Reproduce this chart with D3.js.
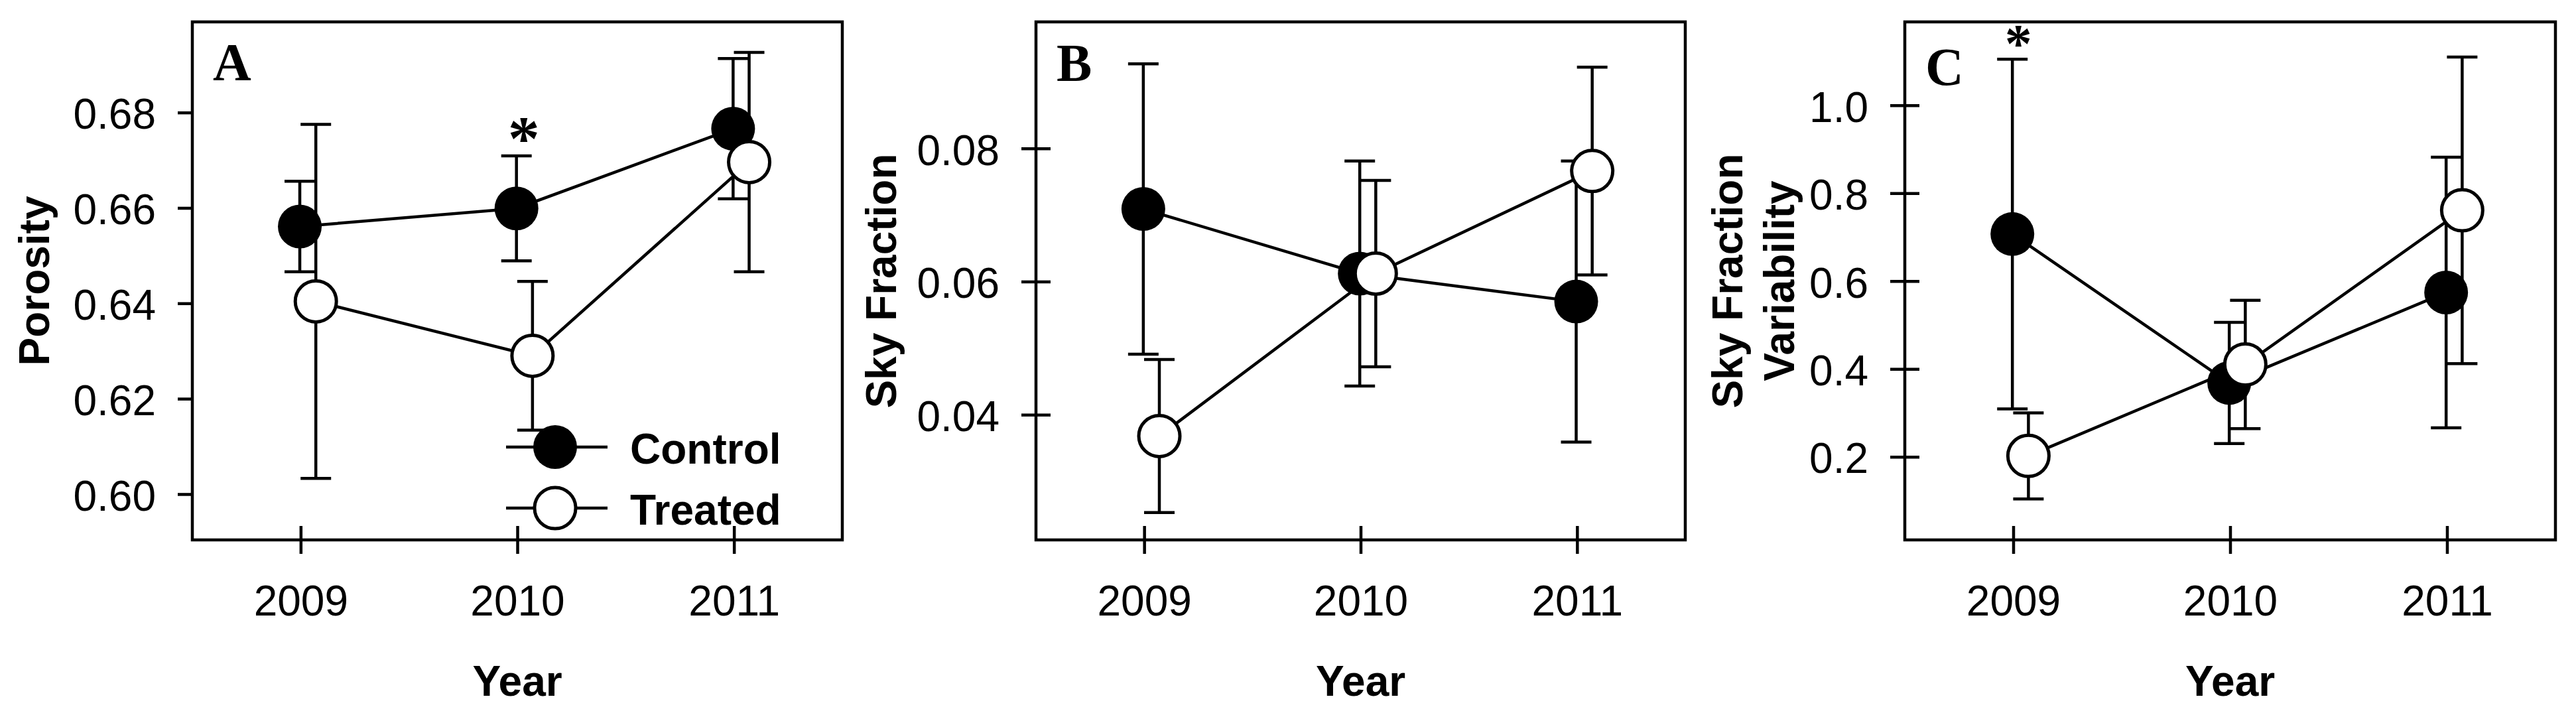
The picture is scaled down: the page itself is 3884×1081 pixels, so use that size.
<!DOCTYPE html>
<html>
<head>
<meta charset="utf-8">
<script src="https://cdn.jsdelivr.net/npm/d3@7"></script>
<style>
  html, body { margin: 0; padding: 0; background: #fff; }
  svg { display: block; }
</style>
</head>
<body>
<script>
// ---------------- data ----------------
const years = [2009, 2010, 2011];
const seriesNames = ["Control", "Treated"];

const porosityControl    = [0.6561, 0.6599, 0.6766];
const porosityControlErr = [0.0095, 0.0110, 0.0147];
const porosityTreated    = [0.6404, 0.6290, 0.6696];
const porosityTreatedErr = [0.0371, 0.0156, 0.0230];

const skyControl    = [0.0709, 0.0612, 0.0570];
const skyControlErr = [0.0218, 0.0169, 0.0211];
const skyTreated    = [0.0368, 0.0612, 0.0766];
const skyTreatedErr = [0.0115, 0.0140, 0.0156];

const varControl    = [0.707, 0.368, 0.574];
const varControlErr = [0.398, 0.138, 0.308];
const varTreated    = [0.202, 0.410, 0.761];
const varTreatedErr = [0.098, 0.146, 0.349];

const porosityTicks = [0.60, 0.62, 0.64, 0.66, 0.68];
const skyTicks      = [0.04, 0.06, 0.08];
const varTicks      = [0.2, 0.4, 0.6, 0.8, 1.0];

// ---------------- layout ----------------
const W = 3884, H = 1081;
const TOP = 33, BOTTOM = 814;
const SW = 4.5;
const SANS = "'Liberation Sans', Arial, Helvetica, sans-serif";
const SERIF = "'Liberation Serif', 'Times New Roman', serif";

const panels = [
  { letter: "A", x0: 290, x1: 1270, domain: [0.5904, 0.699], ticks: porosityTicks, fmt: ".2f",
    control: porosityControl, controlErr: porosityControlErr,
    treated: porosityTreated, treatedErr: porosityTreatedErr,
    title: ["Porosity"], titleX: [74], innerYTicks: false, letterBase: 121,
    star: { series: "control", i: 1, dx: 11, gap: 40, size: 96 }, legend: true },
  { letter: "B", x0: 1562, x1: 2541, domain: [0.0212, 0.0990], ticks: skyTicks, fmt: ".2f",
    control: skyControl, controlErr: skyControlErr,
    treated: skyTreated, treatedErr: skyTreatedErr,
    title: ["Sky Fraction"], titleX: [1351], innerYTicks: true, letterBase: 122,
    star: null, legend: false },
  { letter: "C", x0: 2872, x1: 3853, domain: [0.0107, 1.190], ticks: varTicks, fmt: ".1f",
    control: varControl, controlErr: varControlErr,
    treated: varTreated, treatedErr: varTreatedErr,
    title: ["Sky Fraction", "Variability"], titleX: [2627, 2705], innerYTicks: true, letterBase: 128,
    star: { series: "control", i: 0, dx: 9, gap: 36, size: 82 }, legend: false }
];

const offsets = { control: -0.004, treated: 0.07 };

const svg = d3.select("body").append("svg")
  .attr("width", W).attr("height", H)
  .attr("viewBox", `0 0 ${W} ${H}`);
svg.append("rect").attr("width", W).attr("height", H).attr("fill", "#fff");

panels.forEach(p => {
  const g = svg.append("g");
  const x = d3.scaleLinear().domain([2008.5, 2011.5]).range([p.x0, p.x1]);
  const y = d3.scaleLinear().domain(p.domain).range([BOTTOM, TOP]);

  // y axis
  const gy = g.append("g").attr("transform", `translate(${p.x0},0)`)
    .call(d3.axisLeft(y).tickValues(p.ticks).tickFormat(d3.format(p.fmt)).tickSize(22).tickPadding(33));
  gy.select(".domain").remove();
  gy.selectAll(".tick line").attr("stroke", "#000").attr("stroke-width", SW)
    .attr("x1", p.innerYTicks ? 22 : 0);
  gy.selectAll(".tick text").attr("fill", "#000").attr("font-family", SANS)
    .attr("font-size", 64).attr("dy", "0.38em");

  // x axis
  const gx = g.append("g").attr("transform", `translate(0,${BOTTOM})`)
    .call(d3.axisBottom(x).tickValues(years).tickFormat(d3.format("d")).tickSize(21));
  gx.select(".domain").remove();
  gx.selectAll(".tick line").attr("stroke", "#000").attr("stroke-width", SW).attr("y1", -21);
  gx.selectAll(".tick text").attr("fill", "#000").attr("font-family", SANS)
    .attr("font-size", 64).attr("y", 114).attr("dy", null);

  // frame
  g.append("rect").attr("x", p.x0).attr("y", TOP)
    .attr("width", p.x1 - p.x0).attr("height", BOTTOM - TOP)
    .attr("fill", "none").attr("stroke", "#000").attr("stroke-width", SW);

  // axis titles
  g.append("text").attr("x", (p.x0 + p.x1) / 2).attr("y", 1049)
    .attr("text-anchor", "middle").attr("font-family", SANS)
    .attr("font-weight", "bold").attr("font-size", 64).text("Year");
  p.title.forEach((t, k) => {
    g.append("text")
      .attr("transform", `translate(${p.titleX[k]},${(TOP + BOTTOM) / 2}) rotate(-90)`)
      .attr("text-anchor", "middle").attr("font-family", SANS)
      .attr("font-weight", "bold").attr("font-size", 64).text(t);
  });

  // panel letter
  g.append("text").attr("x", p.x0 + 31).attr("y", p.letterBase)
    .attr("font-family", SERIF).attr("font-weight", "bold").attr("font-size", 80)
    .text(p.letter);

  // series
  const series = [
    { key: "control", vals: p.control, errs: p.controlErr },
    { key: "treated", vals: p.treated, errs: p.treatedErr }
  ];
  series.forEach(s => {
    const pts = years.map((yr, i) => ({ x: x(yr + offsets[s.key]), v: s.vals[i], e: s.errs[i] }));
    const sg = g.append("g");
    // error bars
    const eb = sg.selectAll(".eb").data(pts).enter().append("g");
    eb.append("line").attr("x1", d => d.x).attr("x2", d => d.x)
      .attr("y1", d => y(d.v + d.e)).attr("y2", d => y(d.v - d.e))
      .attr("stroke", "#000").attr("stroke-width", SW);
    eb.append("line").attr("x1", d => d.x - 23).attr("x2", d => d.x + 23)
      .attr("y1", d => y(d.v + d.e)).attr("y2", d => y(d.v + d.e))
      .attr("stroke", "#000").attr("stroke-width", SW);
    eb.append("line").attr("x1", d => d.x - 23).attr("x2", d => d.x + 23)
      .attr("y1", d => y(d.v - d.e)).attr("y2", d => y(d.v - d.e))
      .attr("stroke", "#000").attr("stroke-width", SW);
    // connecting line
    sg.append("path").datum(pts)
      .attr("d", d3.line().x(d => d.x).y(d => y(d.v)))
      .attr("fill", "none").attr("stroke", "#000").attr("stroke-width", SW);
    // markers
    sg.selectAll("circle").data(pts).enter().append("circle")
      .attr("cx", d => d.x).attr("cy", d => y(d.v))
      .attr("r", s.key === "control" ? 33 : 31)
      .attr("fill", s.key === "control" ? "#000" : "#fff")
      .attr("stroke", "#000").attr("stroke-width", s.key === "control" ? 0 : 5);
  });

  // significance star
  if (p.star) {
    const vals = p.star.series === "control" ? p.control : p.treated;
    const errs = p.star.series === "control" ? p.controlErr : p.treatedErr;
    const i = p.star.i;
    const cx = x(years[i] + offsets[p.star.series]) + p.star.dx;
    const cy = y(vals[i] + errs[i]) - p.star.gap;
    g.append("text").attr("x", cx).attr("y", cy + 0.48 * p.star.size)
      .attr("text-anchor", "middle").attr("font-family", SERIF)
      .attr("font-weight", "bold").attr("font-size", p.star.size).text("*");
  }

  // legend
  if (p.legend) {
    const lx = p.x0 + 547, ly = [674, 766];
    seriesNames.forEach((name, k) => {
      const lg = g.append("g");
      lg.append("line").attr("x1", lx - 74).attr("x2", lx + 79)
        .attr("y1", ly[k]).attr("y2", ly[k]).attr("stroke", "#000").attr("stroke-width", SW);
      lg.append("circle").attr("cx", lx).attr("cy", ly[k])
        .attr("r", k === 0 ? 33 : 31).attr("fill", k === 0 ? "#000" : "#fff")
        .attr("stroke", "#000").attr("stroke-width", k === 0 ? 0 : 5);
      lg.append("text").attr("x", lx + 113).attr("y", ly[k] + 25)
        .attr("font-family", SANS).attr("font-weight", "bold").attr("font-size", 64)
        .text(name);
    });
  }
});
</script>
</body>
</html>
